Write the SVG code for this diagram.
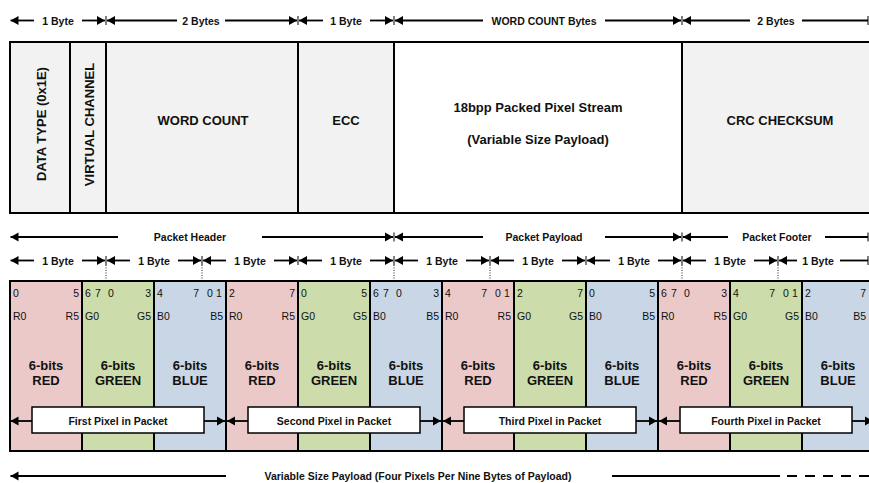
<svg xmlns="http://www.w3.org/2000/svg" width="869" height="483" viewBox="0 0 869 483">
<defs>
<style>
.t{font-family:"Liberation Sans",Arial,Helvetica,sans-serif;font-weight:bold;fill:#111}
.dim{font-size:10.5px;text-anchor:middle}
.hd{font-size:13px;text-anchor:middle}
.bit{font-family:"Liberation Sans",Arial,Helvetica,sans-serif;font-size:10.5px;fill:#111}
.e{text-anchor:end}
.dl{stroke:#000;stroke-width:1.8;fill:none}
.tk{stroke:#000;stroke-width:1}
.box{stroke:#000;stroke-width:2}
.gray{fill:#f2f2f2}
.red{fill:#ecc9c9}
.grn{fill:#ccdcaa}
.blu{fill:#c9d6e5}
.dot{stroke:#222;stroke-width:1;stroke-dasharray:1 1.5}
.lbl{fill:#fff;stroke:#000;stroke-width:1.5}
</style>
<marker id="ah" viewBox="0 0 8 10" refX="8" refY="5" markerWidth="8" markerHeight="10" markerUnits="userSpaceOnUse" orient="auto-start-reverse">
<path d="M0,0.5 L8,5 L0,9.5 z" fill="#000"/>
</marker>
</defs>
<rect width="869" height="483" fill="#fff"/>

<g id="connectors">
<g id="row1">
<line class="dl" x1="10.5" y1="20.5" x2="34" y2="20.5" marker-start="url(#ah)"/>
<line class="dl" x1="82" y1="20.5" x2="105" y2="20.5" marker-end="url(#ah)"/>
<line class="tk" x1="106" y1="16" x2="106" y2="25"/>
<line class="dl" x1="107" y1="20.5" x2="177" y2="20.5" marker-start="url(#ah)"/>
<line class="dl" x1="225" y1="20.5" x2="297" y2="20.5" marker-end="url(#ah)"/>
<line class="tk" x1="298" y1="16" x2="298" y2="25"/>
<line class="dl" x1="299" y1="20.5" x2="323" y2="20.5" marker-start="url(#ah)"/>
<line class="dl" x1="370" y1="20.5" x2="393" y2="20.5" marker-end="url(#ah)"/>
<line class="tk" x1="394" y1="16" x2="394" y2="25"/>
<line class="dl" x1="395" y1="20.5" x2="483" y2="20.5" marker-start="url(#ah)"/>
<line class="dl" x1="605" y1="20.5" x2="681" y2="20.5" marker-end="url(#ah)"/>
<line class="tk" x1="682" y1="16" x2="682" y2="25"/>
<line class="dl" x1="683" y1="20.5" x2="750" y2="20.5" marker-start="url(#ah)"/>
<line class="dl" x1="802" y1="20.5" x2="868" y2="20.5"/>
<line class="tk" x1="868" y1="16" x2="868" y2="25"/>
</g>
<g id="row2">
<line class="dl" x1="10.5" y1="237" x2="118" y2="237" marker-start="url(#ah)"/>
<line class="dl" x1="262" y1="237" x2="393" y2="237" marker-end="url(#ah)"/>
<line class="tk" x1="394" y1="232.5" x2="394" y2="241.5"/>
<line class="dl" x1="395" y1="237" x2="483" y2="237" marker-start="url(#ah)"/>
<line class="dl" x1="605" y1="237" x2="681" y2="237" marker-end="url(#ah)"/>
<line class="tk" x1="682" y1="232.5" x2="682" y2="241.5"/>
<line class="dl" x1="683" y1="237" x2="728" y2="237" marker-start="url(#ah)"/>
<line class="dl" x1="825" y1="237" x2="868" y2="237"/>
<line class="tk" x1="868" y1="232.5" x2="868" y2="241.5"/>
</g>
<g id="row3">
<line class="dl" x1="10.5" y1="260.5" x2="34" y2="260.5" marker-start="url(#ah)"/>
<line class="dl" x1="82" y1="260.5" x2="105" y2="260.5" marker-end="url(#ah)"/>
<line class="tk" x1="106" y1="256" x2="106" y2="265"/>
<line class="dl" x1="107" y1="260.5" x2="130" y2="260.5" marker-start="url(#ah)"/>
<line class="dl" x1="178" y1="260.5" x2="201" y2="260.5" marker-end="url(#ah)"/>
<line class="tk" x1="202" y1="256" x2="202" y2="265"/>
<line class="dl" x1="203" y1="260.5" x2="226" y2="260.5" marker-start="url(#ah)"/>
<line class="dl" x1="274" y1="260.5" x2="297" y2="260.5" marker-end="url(#ah)"/>
<line class="tk" x1="298" y1="256" x2="298" y2="265"/>
<line class="dl" x1="299" y1="260.5" x2="322" y2="260.5" marker-start="url(#ah)"/>
<line class="dl" x1="370" y1="260.5" x2="393" y2="260.5" marker-end="url(#ah)"/>
<line class="tk" x1="394" y1="256" x2="394" y2="265"/>
<line class="dl" x1="395" y1="260.5" x2="418" y2="260.5" marker-start="url(#ah)"/>
<line class="dl" x1="466" y1="260.5" x2="489" y2="260.5" marker-end="url(#ah)"/>
<line class="tk" x1="490" y1="256" x2="490" y2="265"/>
<line class="dl" x1="491" y1="260.5" x2="514" y2="260.5" marker-start="url(#ah)"/>
<line class="dl" x1="562" y1="260.5" x2="585" y2="260.5" marker-end="url(#ah)"/>
<line class="tk" x1="586" y1="256" x2="586" y2="265"/>
<line class="dl" x1="587" y1="260.5" x2="610" y2="260.5" marker-start="url(#ah)"/>
<line class="dl" x1="658" y1="260.5" x2="681" y2="260.5" marker-end="url(#ah)"/>
<line class="tk" x1="682" y1="256" x2="682" y2="265"/>
<line class="dl" x1="683" y1="260.5" x2="706" y2="260.5" marker-start="url(#ah)"/>
<line class="dl" x1="754" y1="260.5" x2="777" y2="260.5" marker-end="url(#ah)"/>
<line class="tk" x1="778" y1="256" x2="778" y2="265"/>
<line class="dl" x1="779" y1="260.5" x2="797" y2="260.5" marker-start="url(#ah)"/>
<line class="dl" x1="840" y1="260.5" x2="868" y2="260.5"/>
<line class="tk" x1="868" y1="256" x2="868" y2="265"/>
</g>
<g id="dots">
<line class="dot" x1="106" y1="265" x2="106" y2="307"/>
<line class="dot" x1="202" y1="265" x2="202" y2="307"/>
<line class="dot" x1="394" y1="265" x2="394" y2="307"/>
<line class="dot" x1="490" y1="265" x2="490" y2="307"/>
<line class="dot" x1="682" y1="265" x2="682" y2="307"/>
<line class="dot" x1="778" y1="265" x2="778" y2="307"/>
</g>
</g>

<g id="dim-labels" class="t dim">
<text x="58" y="24.5">1 Byte</text>
<text x="201" y="24.5">2 Bytes</text>
<text x="346" y="24.5">1 Byte</text>
<text x="544" y="24.5">WORD COUNT Bytes</text>
<text x="776" y="24.5">2 Bytes</text>
<text x="190" y="241">Packet Header</text>
<text x="544" y="241">Packet Payload</text>
<text x="777" y="241">Packet Footer</text>
<text x="58" y="264.5">1 Byte</text>
<text x="154" y="264.5">1 Byte</text>
<text x="250" y="264.5">1 Byte</text>
<text x="346" y="264.5">1 Byte</text>
<text x="442" y="264.5">1 Byte</text>
<text x="538" y="264.5">1 Byte</text>
<text x="634" y="264.5">1 Byte</text>
<text x="730" y="264.5">1 Byte</text>
<text x="818" y="264.5">1 Byte</text>
</g>

<g id="f-datatype">
<rect class="box gray" x="10" y="42" width="60" height="171"/>
<text class="t hd" transform="translate(46,124) rotate(-90)">DATA TYPE (0x1E)</text>
</g>
<g id="f-vc">
<rect class="box gray" x="70" y="42" width="36" height="171"/>
<text class="t hd" transform="translate(94,124.5) rotate(-90)">VIRTUAL CHANNEL</text>
</g>
<g id="f-wc">
<rect class="box gray" x="106" y="42" width="192" height="171"/>
<text class="t hd" x="203" y="124.5">WORD COUNT</text>
</g>
<g id="f-ecc">
<rect class="box gray" x="298" y="42" width="96" height="171"/>
<text class="t hd" x="346" y="124.5">ECC</text>
</g>
<g id="f-payload">
<rect class="box" fill="#fff" x="394" y="42" width="288" height="171"/>
<text class="t hd" x="538" y="112">18bpp Packed Pixel Stream</text>
<text class="t hd" x="538" y="144">(Variable Size Payload)</text>
</g>
<g id="f-crc">
<rect class="box gray" x="682" y="42" width="200" height="171"/>
<text class="t hd" x="780" y="124.5">CRC CHECKSUM</text>
</g>

<g id="c0"><rect class="box red" x="10" y="281" width="72" height="170"/>
<text class="bit" x="13" y="296.5">0</text><text class="bit e" x="79" y="296.5">5</text>
<text class="bit" x="13" y="320">R0</text><text class="bit e" x="79" y="320">R5</text>
<text class="t hd" x="46" y="370">6-bits</text><text class="t hd" x="46" y="385">RED</text></g>
<g id="c1"><rect class="box grn" x="82" y="281" width="72" height="170"/>
<text class="bit" x="85" y="296.5">6</text><text class="bit" x="95" y="296.5">7</text><text class="bit" x="108" y="296.5">0</text><text class="bit e" x="151" y="296.5">3</text>
<text class="bit" x="85" y="320">G0</text><text class="bit e" x="151" y="320">G5</text>
<text class="t hd" x="118" y="370">6-bits</text><text class="t hd" x="118" y="385">GREEN</text></g>
<g id="c2"><rect class="box blu" x="154" y="281" width="72" height="170"/>
<text class="bit" x="157" y="296.5">4</text><text class="bit e" x="199" y="296.5">7</text><text class="bit" x="207" y="296.5">0</text><text class="bit" x="216" y="296.5">1</text>
<text class="bit" x="157" y="320">B0</text><text class="bit e" x="223" y="320">B5</text>
<text class="t hd" x="190" y="370">6-bits</text><text class="t hd" x="190" y="385">BLUE</text></g>
<g id="c3"><rect class="box red" x="226" y="281" width="72" height="170"/>
<text class="bit" x="229" y="296.5">2</text><text class="bit e" x="295" y="296.5">7</text>
<text class="bit" x="229" y="320">R0</text><text class="bit e" x="295" y="320">R5</text>
<text class="t hd" x="262" y="370">6-bits</text><text class="t hd" x="262" y="385">RED</text></g>
<g id="c4"><rect class="box grn" x="298" y="281" width="72" height="170"/>
<text class="bit" x="301" y="296.5">0</text><text class="bit e" x="367" y="296.5">5</text>
<text class="bit" x="301" y="320">G0</text><text class="bit e" x="367" y="320">G5</text>
<text class="t hd" x="334" y="370">6-bits</text><text class="t hd" x="334" y="385">GREEN</text></g>
<g id="c5"><rect class="box blu" x="370" y="281" width="72" height="170"/>
<text class="bit" x="373" y="296.5">6</text><text class="bit" x="383" y="296.5">7</text><text class="bit" x="396" y="296.5">0</text><text class="bit e" x="439" y="296.5">3</text>
<text class="bit" x="373" y="320">B0</text><text class="bit e" x="439" y="320">B5</text>
<text class="t hd" x="406" y="370">6-bits</text><text class="t hd" x="406" y="385">BLUE</text></g>
<g id="c6"><rect class="box red" x="442" y="281" width="72" height="170"/>
<text class="bit" x="445" y="296.5">4</text><text class="bit e" x="487" y="296.5">7</text><text class="bit" x="495" y="296.5">0</text><text class="bit" x="504" y="296.5">1</text>
<text class="bit" x="445" y="320">R0</text><text class="bit e" x="511" y="320">R5</text>
<text class="t hd" x="478" y="370">6-bits</text><text class="t hd" x="478" y="385">RED</text></g>
<g id="c7"><rect class="box grn" x="514" y="281" width="72" height="170"/>
<text class="bit" x="517" y="296.5">2</text><text class="bit e" x="583" y="296.5">7</text>
<text class="bit" x="517" y="320">G0</text><text class="bit e" x="583" y="320">G5</text>
<text class="t hd" x="550" y="370">6-bits</text><text class="t hd" x="550" y="385">GREEN</text></g>
<g id="c8"><rect class="box blu" x="586" y="281" width="72" height="170"/>
<text class="bit" x="589" y="296.5">0</text><text class="bit e" x="655" y="296.5">5</text>
<text class="bit" x="589" y="320">B0</text><text class="bit e" x="655" y="320">B5</text>
<text class="t hd" x="622" y="370">6-bits</text><text class="t hd" x="622" y="385">BLUE</text></g>
<g id="c9"><rect class="box red" x="658" y="281" width="72" height="170"/>
<text class="bit" x="661" y="296.5">6</text><text class="bit" x="671" y="296.5">7</text><text class="bit" x="684" y="296.5">0</text><text class="bit e" x="727" y="296.5">3</text>
<text class="bit" x="661" y="320">R0</text><text class="bit e" x="727" y="320">R5</text>
<text class="t hd" x="694" y="370">6-bits</text><text class="t hd" x="694" y="385">RED</text></g>
<g id="c10"><rect class="box grn" x="730" y="281" width="72" height="170"/>
<text class="bit" x="733" y="296.5">4</text><text class="bit e" x="775" y="296.5">7</text><text class="bit" x="783" y="296.5">0</text><text class="bit" x="792" y="296.5">1</text>
<text class="bit" x="733" y="320">G0</text><text class="bit e" x="799" y="320">G5</text>
<text class="t hd" x="766" y="370">6-bits</text><text class="t hd" x="766" y="385">GREEN</text></g>
<g id="c11"><rect class="box blu" x="802" y="281" width="80" height="170"/>
<text class="bit" x="805" y="296.5">2</text><text class="bit e" x="866" y="296.5">7</text>
<text class="bit" x="805" y="320">B0</text><text class="bit e" x="866" y="320">B5</text>
<text class="t hd" x="838" y="370">6-bits</text><text class="t hd" x="838" y="385">BLUE</text></g>

<g id="pixel-arrows">
<line class="dl" x1="10.5" y1="421" x2="32" y2="421" marker-start="url(#ah)"/>
<line class="dl" x1="204" y1="421" x2="225" y2="421" marker-end="url(#ah)"/>
<line class="dl" x1="227" y1="421" x2="248" y2="421" marker-start="url(#ah)"/>
<line class="dl" x1="420" y1="421" x2="441" y2="421" marker-end="url(#ah)"/>
<line class="dl" x1="443" y1="421" x2="464" y2="421" marker-start="url(#ah)"/>
<line class="dl" x1="636" y1="421" x2="657" y2="421" marker-end="url(#ah)"/>
<line class="dl" x1="659" y1="421" x2="680" y2="421" marker-start="url(#ah)"/>
<line class="dl" x1="852" y1="421" x2="873" y2="421" marker-end="url(#ah)"/>
</g>
<g id="p1"><rect class="lbl" x="32" y="407" width="172" height="26"/><text class="t dim" x="118" y="424.5">First Pixel in Packet</text></g>
<g id="p2"><rect class="lbl" x="248" y="407" width="172" height="26"/><text class="t dim" x="334" y="424.5">Second Pixel in Packet</text></g>
<g id="p3"><rect class="lbl" x="464" y="407" width="172" height="26"/><text class="t dim" x="550" y="424.5">Third Pixel in Packet</text></g>
<g id="p4"><rect class="lbl" x="680" y="407" width="172" height="26"/><text class="t dim" x="766" y="424.5">Fourth Pixel in Packet</text></g>

<g id="payload-span">
<line x1="10.5" y1="476" x2="226" y2="476" stroke="#000" stroke-width="2" marker-start="url(#ah)"/>
<text class="t dim" x="418" y="480">Variable Size Payload (Four Pixels Per Nine Bytes of Payload)</text>
<line x1="612" y1="476" x2="780" y2="476" stroke="#000" stroke-width="2"/>
<line x1="787" y1="476" x2="869" y2="476" stroke="#000" stroke-width="2" stroke-dasharray="10 8"/>
</g>
</svg>
